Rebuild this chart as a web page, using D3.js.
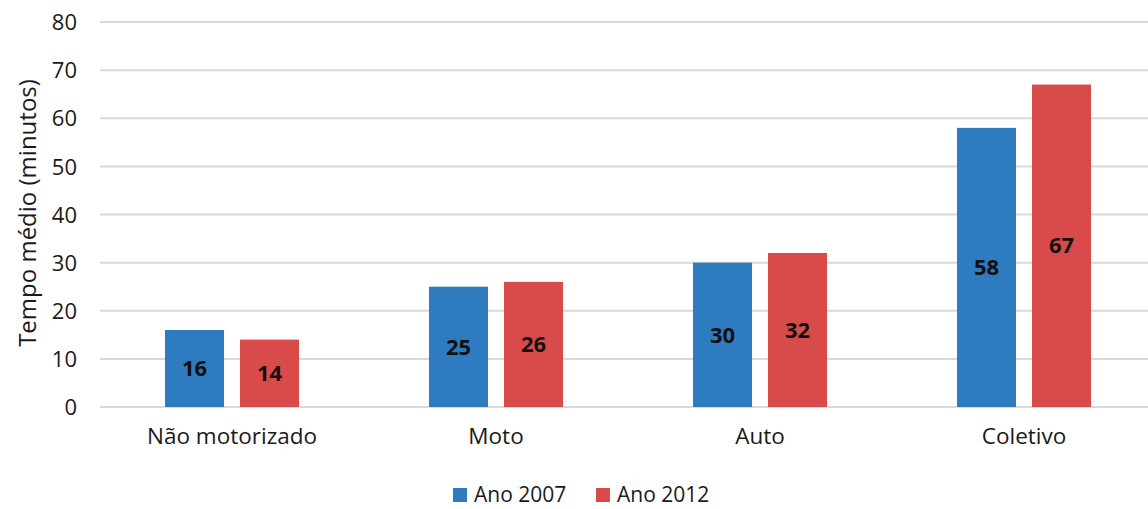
<!DOCTYPE html>
<html><head><meta charset="utf-8">
<script src="https://cdn.jsdelivr.net/npm/d3@7"></script>
<style>body{margin:0;background:#fff}svg{display:block}</style>
</head><body>
<svg id="c" width="1148" height="509"></svg>
<script>
const categories = ["Não motorizado", "Moto", "Auto", "Coletivo"];
const series = ["Ano 2007", "Ano 2012"];
const values2007 = [16, 25, 30, 58];
const values2012 = [14, 26, 32, 67];
const yTicks = [0, 10, 20, 30, 40, 50, 60, 70, 80];
const colors = ["#2E7BBF", "#D94B4B"];
const yTitle = "Tempo médio (minutos)";

const svg = d3.select("#c");
const font = "'Open Sans', sans-serif";
const x0 = d3.scaleBand().domain(categories).range([100, 1156]).paddingInner(0).paddingOuter(0);
const x1 = d3.scaleBand().domain(series).range([0, 134]).paddingInner(0.213);
const y = d3.scaleLinear().domain([0, 80]).range([407, 22]);

// gridlines
svg.append("g").selectAll("line").data(yTicks).join("line")
  .attr("x1", 100).attr("x2", 1156)
  .attr("y1", d => y(d)).attr("y2", d => y(d))
  .attr("stroke", "#d9d9d9").attr("stroke-width", 2);

// y axis labels
const yAxis = d3.axisLeft(y).tickValues(yTicks).tickSize(0).tickPadding(0);
const ga = svg.append("g").attr("transform", "translate(77,0)").call(yAxis);
ga.select(".domain").remove();
ga.selectAll("text").attr("font-family", font).attr("font-size", 22).attr("fill", "#1a1a1a").attr("dy", "0.35em");

// x axis labels
const xAxis = d3.axisBottom(x0).tickSize(0).tickPadding(0);
const gx = svg.append("g").attr("transform", "translate(0,428)").call(xAxis);
gx.select(".domain").remove();
gx.selectAll("text").attr("font-family", font).attr("font-size", 22.5).attr("fill", "#1a1a1a").attr("dy", "0.71em");

// y title
svg.append("text").attr("transform", "translate(36,213) rotate(-90)")
  .attr("text-anchor", "middle").attr("font-family", font).attr("font-size", 24).attr("fill", "#1a1a1a")
  .text(yTitle);

// bars
const data = categories.map((c, i) => ({c, vals: [{s: series[0], v: values2007[i], k: 0}, {s: series[1], v: values2012[i], k: 1}]}));
const groups = svg.append("g").selectAll("g").data(data).join("g")
  .attr("transform", d => `translate(${x0(d.c) + (x0.bandwidth() - 134) / 2},0)`);
groups.selectAll("rect").data(d => d.vals).join("rect")
  .attr("x", d => x1(d.s)).attr("width", x1.bandwidth())
  .attr("y", d => y(d.v)).attr("height", d => y(0) - y(d.v))
  .attr("fill", d => colors[d.k]);
groups.selectAll("text").data(d => d.vals).join("text")
  .attr("x", d => x1(d.s) + x1.bandwidth() / 2)
  .attr("y", d => (y(d.v) + y(0)) / 2).attr("dy", "0.35em")
  .attr("text-anchor", "middle").attr("font-family", font).attr("font-weight", "bold")
  .attr("font-size", 22).attr("fill", "#111").text(d => d.v);

// legend
const legendX = [453, 596];
const lg = svg.append("g").selectAll("g").data(series).join("g")
  .attr("transform", (d, i) => `translate(${legendX[i]},488)`);
lg.append("rect").attr("width", 14).attr("height", 14).attr("fill", (d, i) => colors[i]);
lg.append("text").attr("x", 21).attr("y", 7).attr("dy", "0.35em")
  .attr("font-family", font).attr("font-size", 21).attr("fill", "#1a1a1a").text(d => d);
</script>
</body></html>
